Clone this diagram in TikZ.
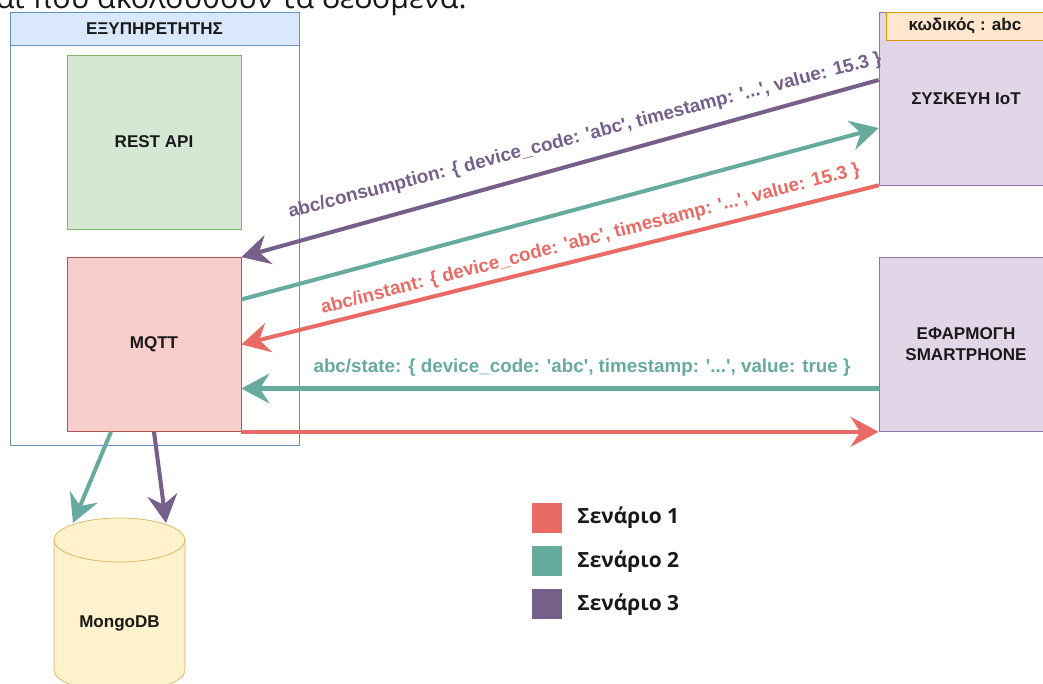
\documentclass[tikz,border=0pt]{standalone}
\usepackage{fontspec}
\setmainfont{Liberation Sans}
\newfontfamily\legendfont{Open Sans}
\usetikzlibrary{arrows.meta,calc}

\definecolor{scnred}{HTML}{EA6B66}
\definecolor{scnteal}{HTML}{67AB9F}
\definecolor{scnpurple}{HTML}{76608A}
\definecolor{srvline}{HTML}{6C8EBF}
\definecolor{srvfill}{HTML}{DAE8FC}
\definecolor{restline}{HTML}{82B366}
\definecolor{restfill}{HTML}{D5E8D4}
\definecolor{mqttline}{HTML}{B85450}
\definecolor{mqttfill}{HTML}{F8CECC}
\definecolor{devline}{HTML}{9673A6}
\definecolor{devfill}{HTML}{E1D5E7}
\definecolor{tagline}{HTML}{D79B00}
\definecolor{tagfill}{HTML}{FFE6CC}
\definecolor{dbline}{HTML}{D6B656}
\definecolor{dbfill}{HTML}{FFF2CC}

\newcommand{\apos}{\textquotesingle}

\begin{document}
\begin{tikzpicture}[>=Stealth,
    every node/.style={font=\bfseries\fontsize{9.7}{11.9}\selectfont, text=black!90},
    box/.style={draw, minimum width=3.48cm, minimum height=3.48cm, align=center, inner sep=0pt},
    flow/.style={line width=2.3pt, -{Stealth[length=16pt,width=17pt,inset=5.5pt]}},
    msg/.style={font=\bfseries\fontsize{10.7}{12}\selectfont, inner sep=0pt}]
        \path[use as bounding box] (0,0) rectangle (20.86,13.68);
        \clip (0,0) rectangle (20.86,13.68);
        % last line of the text above
        \node[font=\legendfont\mdseries\fontsize{17.3}{20}\selectfont, anchor=base east, inner sep=0pt] (caption) at (9.34,13.50) {και που ακολουθούν τα δεδομένα.};
        % server container
        \node[draw=srvline, fill=white, minimum width=5.78cm, minimum height=8.66cm] (srv) at (3.09,9.11) {};
        \node[draw=srvline, fill=srvfill, minimum width=5.78cm, minimum height=0.66cm, anchor=north] (srvhead) at (srv.north) {ΕΞΥΠΗΡΕΤΗΤΗΣ};
        \node[box, draw=restline, fill=restfill] (rest) at (3.08,10.84) {REST API};
        \node[box, draw=mqttline, fill=mqttfill] (mqtt) at (3.08,6.79) {MQTT};
        % device and app
        \node[box, draw=devline, fill=devfill, minimum height=3.46cm] (iot) at (19.32,11.71) {ΣΥΣΚΕΥΗ IoT};
        \node[draw=tagline, fill=tagfill, minimum width=3.16cm, minimum height=0.56cm, anchor=north west] (tag) at ([xshift=0.14cm]iot.north west) {κωδικός : abc};
        \node[box, draw=devline, fill=devfill] (phone) at (19.32,6.79) {ΕΦΑΡΜΟΓΗ\\SMARTPHONE};
        % database
        \filldraw[draw=dbline, fill=dbfill] (1.08,2.88) -- (1.08,0.28)
            arc[start angle=180, end angle=360, x radius=1.31cm, y radius=0.44cm] -- (3.70,2.88)
            arc[start angle=0, end angle=180, x radius=1.31cm, y radius=0.44cm] -- cycle;
        \draw[dbline] (1.08,2.88) arc[start angle=180, end angle=360, x radius=1.31cm, y radius=0.44cm];
        \node (db) at (2.39,1.22) {MongoDB};
        \coordinate (dbin1) at (1.46,3.22);
        \coordinate (dbin2) at (3.32,3.22);
        % messages
        \draw[flow, scnpurple] ([yshift=0.37cm]iot.west) -- (mqtt.north east);
        \draw[flow, scnteal] ([yshift=0.9cm]mqtt.east) -- ([yshift=-0.59cm]iot.west);
        \draw[flow, scnred] (iot.south west) -- (mqtt.east);
        \draw[flow, scnteal] ([yshift=-0.88cm]phone.west) -- ([yshift=-0.88cm]mqtt.east);
        \draw[flow, scnred] (mqtt.south east) -- (phone.south west);
        \draw[flow, scnteal] ([xshift=-0.86cm]mqtt.south) -- (dbin1);
        \draw[flow, scnpurple] (mqtt.south) -- (dbin2);
        \node[msg, text=scnpurple, rotate=14.6] (lblcons) at (11.70,10.96) {abc/consumption: \{ device\_code: \apos abc\apos, timestamp: \apos...\apos, value: 15.3 \}};
        \node[msg, text=scnred, rotate=14.5] (lblinst) at (11.81,8.89) {abc/instant: \{ device\_code: \apos abc\apos, timestamp: \apos...\apos, value: 15.3 \}};
        \node[msg, text=scnteal] (lblstate) at (11.64,6.32) {abc/state: \{ device\_code: \apos abc\apos, timestamp: \apos...\apos, value: true \}};
        % legend
        \foreach \i/\c/\y in {1/scnred/3.32, 2/scnteal/2.45, 3/scnpurple/1.59} {
            \node[fill=\c, minimum size=0.6cm, inner sep=0pt] (leg\i) at (10.94,\y) {};
            \node[font=\legendfont\bfseries\fontsize{11.9}{14}\selectfont, anchor=west, inner sep=0pt] (legtxt\i) at (11.54,\y) {Σενάριο \i};
        }
    \end{tikzpicture}
\end{document}
